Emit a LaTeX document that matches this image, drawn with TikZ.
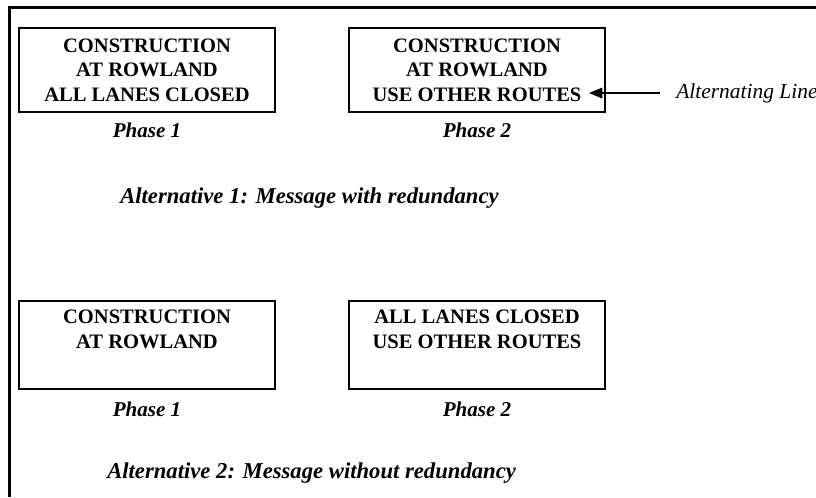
\documentclass[tikz,border=0pt]{standalone}
\usepackage{fontspec}
\setmainfont{Liberation Serif}
\usetikzlibrary{arrows.meta}

\begin{document}
\begin{tikzpicture}[x=0.75pt,y=-0.75pt]
    \tikzstyle{sign}=[draw=black,line width=1.6pt,minimum width=192pt,inner sep=0pt,align=center,
        font=\bfseries\fontsize{15.4}{18.4}\selectfont]
    \tikzstyle{phase}=[anchor=base,inner sep=0pt,font=\bfseries\itshape\fontsize{15.8}{18}\selectfont]
    \tikzstyle{caption}=[anchor=base west,inner sep=0pt,font=\bfseries\itshape\fontsize{17}{20}\selectfont]
    \useasboundingbox (0,0) rectangle (816,497);

    % frame
    \draw[line width=2.25pt] (9,497) -- (9,7) -- (816,7);

    % alternative 1
    \node[sign,minimum height=63pt] (S-1) at (147,70) {CONSTRUCTION\\AT ROWLAND\\ALL LANES CLOSED};
    \node[sign,minimum height=63pt] (S-2) at (477,70) {CONSTRUCTION\\AT ROWLAND\\USE OTHER ROUTES};

    % alternative 2
    \node[sign,minimum height=66pt] (S-3) at (147,345) {CONSTRUCTION\\AT ROWLAND\\\strut};
    \node[sign,minimum height=66pt] (S-4) at (477,345) {ALL LANES CLOSED\\USE OTHER ROUTES\\\strut};

    \foreach \num/\x/\y in {1/147/137, 2/477/137, 1/147/416, 2/477/416}
        \node[phase] at (\x,\y) {Phase \num};

    \node[caption] (C-1) at (120,203) {Alternative 1: Message with redundancy};
    \node[caption] (C-2) at (107,478) {Alternative 2: Message without redundancy};

    % alternating line
    \node[anchor=base west,inner sep=0pt,font=\itshape\fontsize{16.1}{19}\selectfont] (alt) at (676,98) {Alternating Line};
    \coordinate (alt-tip) at (589,93);
    \draw[line width=1.1pt,shorten <=12pt,-{Triangle[length=10pt,width=8pt]}] (alt.west |- alt-tip) -- (alt-tip);
\end{tikzpicture}
\end{document}
